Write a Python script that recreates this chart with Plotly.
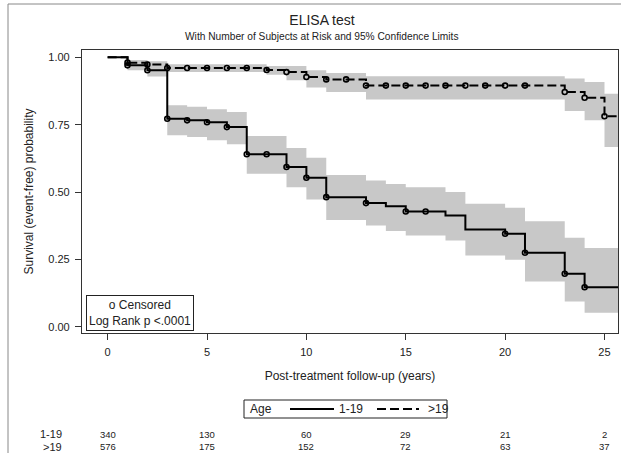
import plotly.graph_objects as go

# ---------------- data ----------------
end_time = 25.7

# Age 1-19 (solid)
t_a = [0, 1, 2, 3, 4, 5, 6, 7, 9, 10, 11, 13, 14, 15, 17, 18, 20, 21, 23, 24]
s_a = [1.0, 0.970, 0.952, 0.772, 0.766, 0.759, 0.741, 0.640, 0.593, 0.553, 0.481,
       0.459, 0.447, 0.428, 0.413, 0.361, 0.345, 0.275, 0.197, 0.147]
lo_a = [1.0, 0.952, 0.929, 0.711, 0.704, 0.692, 0.677, 0.568, 0.518, 0.472, 0.396,
        0.376, 0.355, 0.339, 0.320, 0.265, 0.249, 0.168, 0.094, 0.052]
hi_a = [1.0, 0.988, 0.977, 0.822, 0.816, 0.807, 0.797, 0.708, 0.663, 0.627, 0.563,
        0.543, 0.530, 0.518, 0.500, 0.457, 0.442, 0.392, 0.330, 0.292]
cens_a = [1, 2, 3, 4, 5, 6, 7, 8, 9, 10, 11, 13, 15, 16, 20, 21, 23, 24]

# Age >19 (dashed)
t_b = [0, 1, 2, 3, 8, 9, 10, 11, 13, 23, 24, 25]
s_b = [1.0, 0.980, 0.973, 0.960, 0.953, 0.945, 0.927, 0.918, 0.895, 0.871, 0.850, 0.781]
lo_b = [1.0, 0.965, 0.958, 0.945, 0.935, 0.915, 0.888, 0.871, 0.843, 0.801, 0.766, 0.667]
hi_b = [1.0, 0.990, 0.985, 0.974, 0.968, 0.968, 0.952, 0.942, 0.930, 0.921, 0.908, 0.865]
cens_b = [1, 2, 3, 4, 5, 6, 7, 8, 9, 10, 11, 12, 13, 14, 15, 16, 17, 18, 19, 20, 21, 23, 24, 25]

# numbers at risk
risk_times = [0, 5, 10, 15, 20, 25]
risk_a = [340, 130, 60, 29, 21, 2]
risk_b = [576, 175, 152, 72, 63, 37]
group_labels = ["1-19", ">19"]

x_ticks = [0, 5, 10, 15, 20, 25]
y_ticks = [0.0, 0.25, 0.50, 0.75, 1.00]

FONT = "Liberation Sans, Arial, sans-serif"
BAND = "#c8c8c8"
INK = "#222"
DASH = "9px,4px"

# plot-area geometry (pixels) for placing paper-referenced decorations
W, H = 621, 453
ML, MR, MT, MB = 82, 3, 50, 120
PW, PH = W - ML - MR, H - MT - MB


def px(x):
    return (x - ML) / PW


def py(y):
    return (H - MB - y) / PH


def ext(t, v):
    return list(t) + [end_time], list(v) + [v[-1]]


def step_at(t, s, x):
    val = s[0]
    for ti, si in zip(t, s):
        if ti <= x:
            val = si
    return val


fig = go.Figure()

# confidence bands
for t, lo, hi in [(t_a, lo_a, hi_a), (t_b, lo_b, hi_b)]:
    xl, yl = ext(t, lo)
    xh, yh = ext(t, hi)
    fig.add_trace(go.Scatter(x=xl, y=yl, mode="lines", line=dict(width=0, shape="hv"),
                             showlegend=False, hoverinfo="skip"))
    fig.add_trace(go.Scatter(x=xh, y=yh, mode="lines", line=dict(width=0, shape="hv"),
                             fill="tonexty", fillcolor=BAND, showlegend=False, hoverinfo="skip"))

# survival curves
for t, s, dash in [(t_a, s_a, "solid"), (t_b, s_b, DASH)]:
    xs, ys = ext(t, s)
    fig.add_trace(go.Scatter(x=xs, y=ys, mode="lines",
                             line=dict(color="black", width=2, shape="hv", dash=dash),
                             showlegend=False, hoverinfo="skip"))

# censored marks
for t, s, c in [(t_a, s_a, cens_a), (t_b, s_b, cens_b)]:
    fig.add_trace(go.Scatter(x=c, y=[step_at(t, s, x) for x in c], mode="markers",
                             marker=dict(symbol="circle-open", size=5, color="black",
                                         line=dict(width=1.6)),
                             showlegend=False, hoverinfo="skip"))

annots = []
shapes = []

# subtitle
annots.append(dict(x=px(322), y=py(37), xref="paper", yref="paper",
                   text="With Number of Subjects at Risk and 95% Confidence Limits",
                   showarrow=False, xanchor="center", yanchor="middle",
                   font=dict(size=10.2, color=INK, family=FONT)))

# number at risk table
for lbl, row, yy in [(group_labels[0], risk_a, py(434.5)), (group_labels[1], risk_b, py(446.5))]:
    annots.append(dict(x=px(64), y=yy, xref="paper", yref="paper", text=lbl,
                       showarrow=False, xanchor="right", yanchor="middle",
                       font=dict(size=11, color=INK, family=FONT)))
    for tx, n in zip(risk_times, row):
        annots.append(dict(x=tx, y=yy, xref="x", yref="paper", text=str(n),
                           showarrow=False, xanchor="center", yanchor="middle",
                           font=dict(size=9.5, color=INK, family=FONT)))

# censored / log-rank box
annots.append(dict(x=px(86), y=py(313), xref="paper", yref="paper",
                   text="o Censored<br>Log Rank p <.0001", showarrow=False,
                   xanchor="left", yanchor="middle", align="center",
                   bordercolor=INK, borderwidth=1, borderpad=2, bgcolor="white",
                   font=dict(size=12, color=INK, family=FONT)))

# legend (Age: solid 1-19, dashed >19)
ly = py(409)
shapes.append(dict(type="rect", xref="paper", yref="paper", x0=px(244), x1=px(447),
                   y0=py(400), y1=py(418), line=dict(color=INK, width=1), fillcolor="white"))
annots.append(dict(x=px(248), y=ly, xref="paper", yref="paper", text="Age", showarrow=False,
                   xanchor="left", yanchor="middle", font=dict(size=12, color=INK, family=FONT)))
shapes.append(dict(type="line", xref="paper", yref="paper", x0=px(290), x1=px(334),
                   y0=ly, y1=ly, line=dict(color="black", width=2)))
annots.append(dict(x=px(337), y=ly, xref="paper", yref="paper", text=group_labels[0],
                   showarrow=False, xanchor="left", yanchor="middle",
                   font=dict(size=12, color=INK, family=FONT)))
shapes.append(dict(type="line", xref="paper", yref="paper", x0=px(377), x1=px(419),
                   y0=ly, y1=ly, line=dict(color="black", width=2, dash=DASH)))
annots.append(dict(x=px(426), y=ly, xref="paper", yref="paper", text=group_labels[1],
                   showarrow=False, xanchor="left", yanchor="middle",
                   font=dict(size=12, color=INK, family=FONT)))

# outer frame lines (left and top)
shapes.append(dict(type="line", xref="paper", yref="paper", x0=px(8), x1=px(8),
                   y0=py(H + 5), y1=py(4), line=dict(color="#888", width=1)))
shapes.append(dict(type="line", xref="paper", yref="paper", x0=px(8), x1=px(W + 5),
                   y0=py(4), y1=py(4), line=dict(color="#888", width=1)))

fig.update_layout(
    width=W, height=H,
    margin=dict(l=ML, r=MR, t=MT, b=MB, autoexpand=False),
    paper_bgcolor="white", plot_bgcolor="white",
    font=dict(family=FONT, color=INK),
    title=dict(text="ELISA test", x=322 / W, xanchor="center", xref="container",
               y=1 - 20 / H, yanchor="middle", yref="container",
               font=dict(size=14, family=FONT, color=INK)),
    showlegend=False,
    annotations=annots,
    shapes=shapes,
)

fig.update_xaxes(range=[-1.29, 25.68], tickvals=x_ticks, ticks="outside", ticklen=6,
                 tickcolor="#333", showline=True, linecolor="#333", linewidth=1.2,
                 mirror=True, showgrid=False, zeroline=False, ticklabelstandoff=3,
                 tickfont=dict(size=11, family=FONT, color=INK),
                 title=dict(text="Post-treatment follow-up (years)", standoff=14,
                            font=dict(size=12, family=FONT, color=INK)))
fig.update_yaxes(range=[-0.023, 1.027], tickvals=y_ticks, tickformat=".2f",
                 ticks="outside", ticklen=6, tickcolor="#333", showline=True,
                 linecolor="#333", linewidth=1.2, mirror=True, showgrid=False,
                 zeroline=False, ticklabelstandoff=3,
                 tickfont=dict(size=11, family=FONT, color=INK),
                 title=dict(text="Survival (event-free) probability", standoff=12,
                            font=dict(size=12, family=FONT, color=INK)))

fig.write_html("out.html", config={"displayModeBar": False},
               post_script="document.body.style.margin='0px';")
